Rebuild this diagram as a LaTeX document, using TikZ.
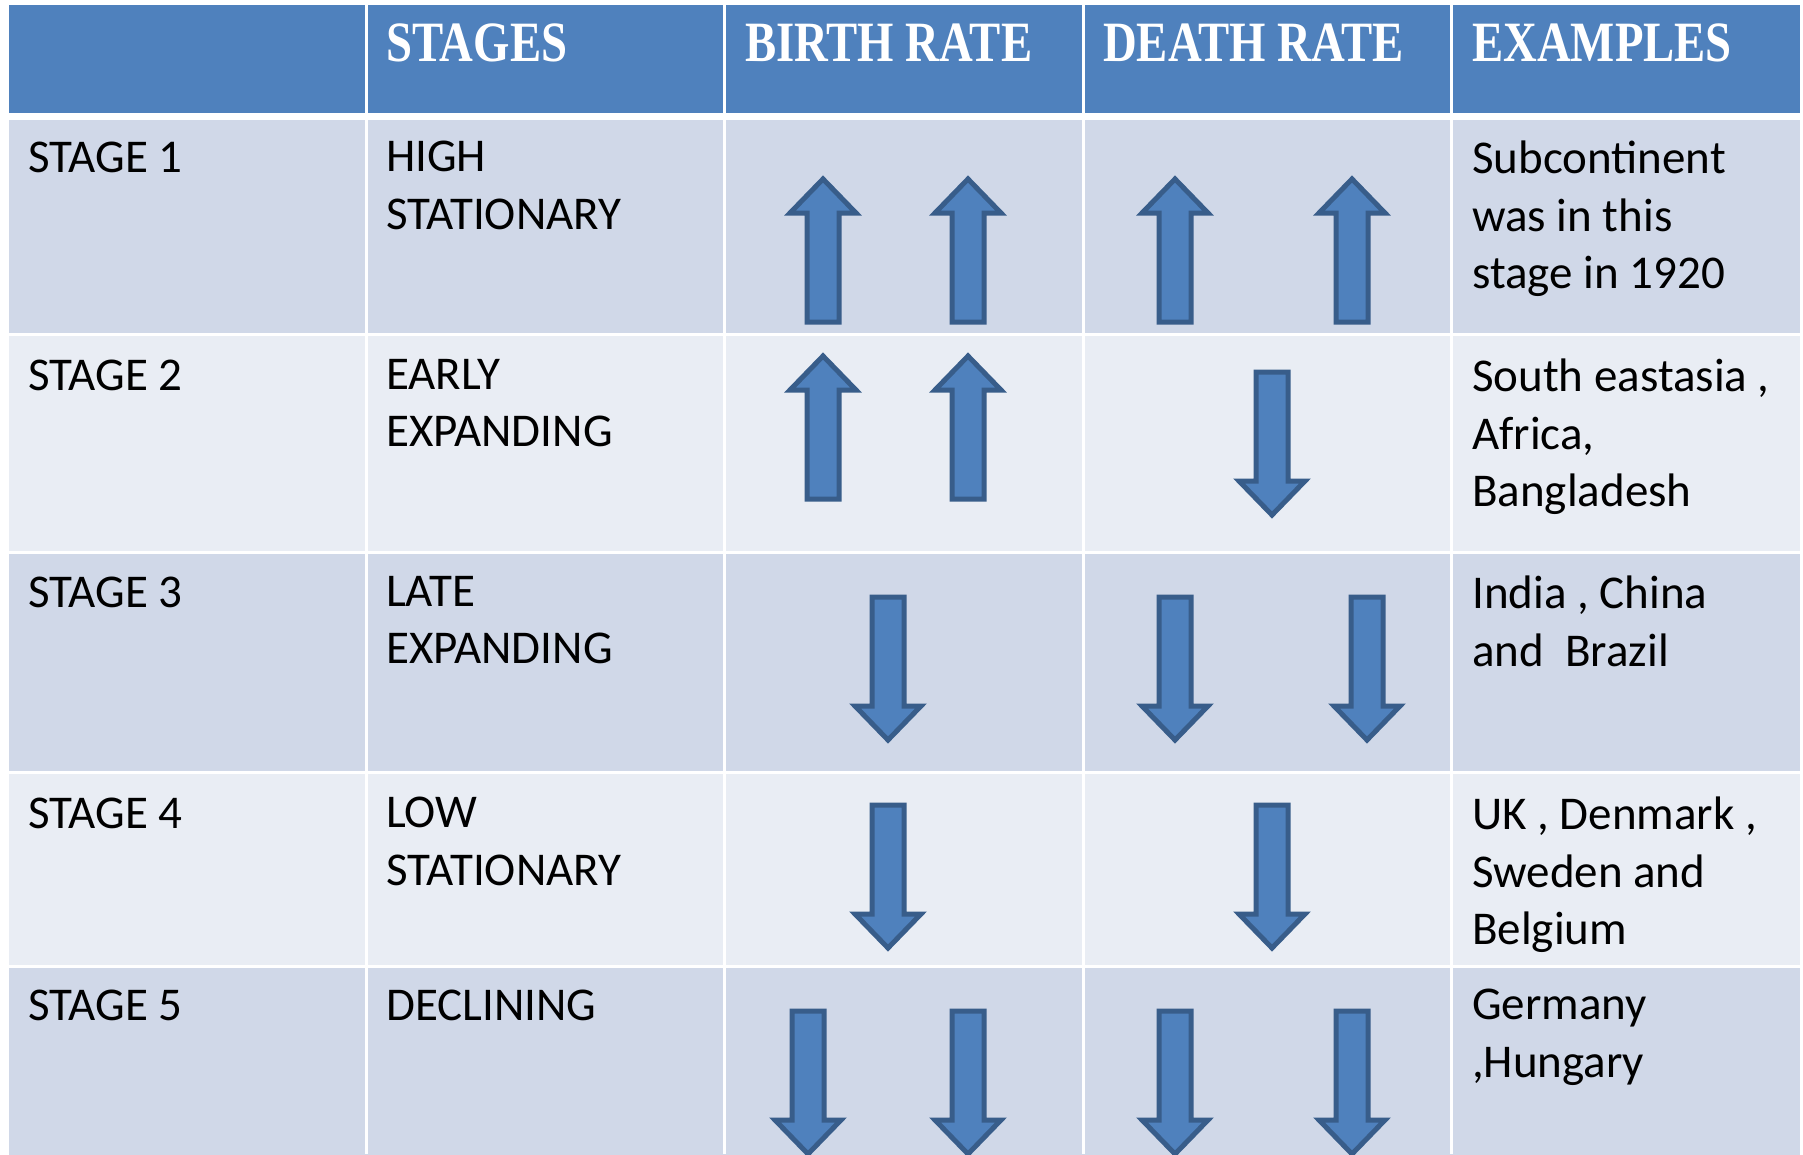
\documentclass[tikz,border=0pt]{standalone}
\usepackage{fontspec}
\setmainfont{Carlito}
\newfontfamily\headfont[FakeStretch=0.82]{Liberation Serif}
\definecolor{hdrblue}{HTML}{4F81BD}
\definecolor{rowdark}{HTML}{D0D8E8}
\definecolor{rowlight}{HTML}{E9EDF4}
\definecolor{arrline}{HTML}{385D8A}
\tikzset{
	hdrtxt/.style={anchor=base west, inner sep=0, text=white, font=\headfont\bfseries\fontsize{57}{68}\selectfont},
	celltxt/.style={anchor=north west, inner sep=0, align=left, font=\fontsize{47}{57.5}\selectfont, execute at begin node=\strut},
	gridline/.style={white, line width=3},
	arrshape/.style={fill=hdrblue, draw=arrline, line width=5}
}
\newcommand{\arrUp}[2]{\draw[arrshape] (#1,#2+2) -- (#1+33,#2+36) -- (#1+16,#2+36) -- (#1+16,#2+145) -- (#1-16,#2+145) -- (#1-16,#2+36) -- (#1-33,#2+36) -- cycle;}
\newcommand{\arrDown}[2]{\draw[arrshape] (#1-16,#2+2) -- (#1+16,#2+2) -- (#1+16,#2+111) -- (#1+33,#2+111) -- (#1,#2+145) -- (#1-33,#2+111) -- (#1-16,#2+111) -- cycle;}
\begin{document}
\begin{tikzpicture}[x=1pt,y=-1pt]
	\useasboundingbox (0,0) rectangle (1803,1154);
	\fill[white] (0,0) rectangle (1803,1154);

	\fill[hdrblue] (9,5) rectangle (1800,113);
	\fill[rowdark] (9,120) rectangle (1800,334);
	\fill[rowlight] (9,334) rectangle (1800,552);
	\fill[rowdark] (9,552) rectangle (1800,772);
	\fill[rowlight] (9,772) rectangle (1800,966);
	\fill[rowdark] (9,966) rectangle (1800,1160);
	\foreach \y in {334,552,772,966}
		\draw[gridline] (9,\y) -- (1800,\y);
	\foreach \x in {366,724,1083,1451}
		\draw[gridline] (\x,0) -- (\x,1154);

	\node[hdrtxt] (hstages) at (386,61){STAGES};
	\node[hdrtxt] (hbirth) at (745,61){BIRTH RATE};
	\node[hdrtxt] (hdeath) at (1103,61){DEATH RATE};
	\node[hdrtxt] (hexamples) at (1472,61){EXAMPLES};

	\node[celltxt] (st1) at (28,132){STAGE 1};
	\node[celltxt] (st2) at (28,350){STAGE 2};
	\node[celltxt] (st3) at (28,567){STAGE 3};
	\node[celltxt] (st4) at (28,788){STAGE 4};
	\node[celltxt] (st5) at (28,980){STAGE 5};

	\node[celltxt] (nm1) at (386,141){HIGH\\STATIONARY};
	\node[celltxt] (nm2) at (386,359){EARLY\\EXPANDING};
	\node[celltxt] (nm3) at (386,576){LATE\\EXPANDING};
	\node[celltxt] (nm4) at (386,797){LOW\\STATIONARY};
	\node[celltxt] (nm5) at (386,980){DECLINING};

	\node[celltxt] (ex1) at (1472,141){Subcontinent\\was in this\\stage in 1920};
	\node[celltxt] (ex2) at (1472,359){South eastasia ,\\Africa,\\Bangladesh};
	\node[celltxt] (ex3) at (1472,576){India , China\\and~~Brazil};
	\node[celltxt] (ex4) at (1472,797){UK , Denmark ,\\Sweden and\\Belgium};
	\node[celltxt] (ex5) at (1472,989){Germany\\,Hungary};

	\foreach \x in {823,968,1175,1352}{\arrUp{\x}{177}}
	\foreach \x in {823,968}{\arrUp{\x}{354}}
	\arrDown{1272}{370}
	\foreach \x in {888,1175,1367}{\arrDown{\x}{595}}
	\foreach \x in {888,1272}{\arrDown{\x}{803}}
	\foreach \x in {808,968,1175,1352}{\arrDown{\x}{1009}}
\end{tikzpicture}
\end{document}
